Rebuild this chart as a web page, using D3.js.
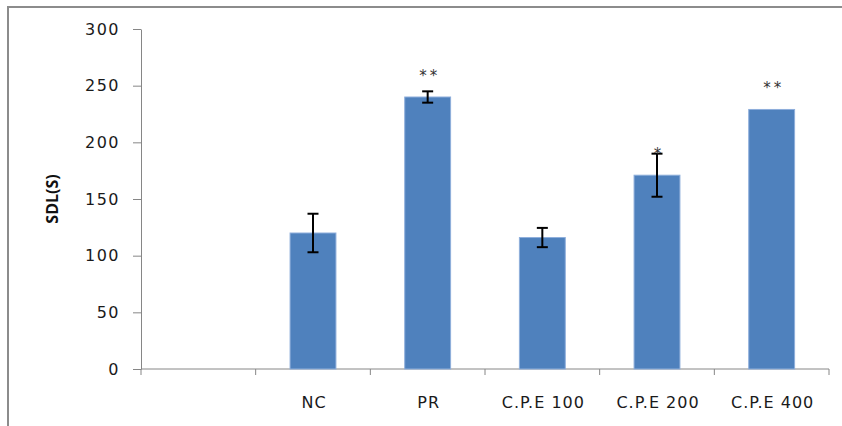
<!DOCTYPE html>
<html>
<head>
<meta charset="utf-8">
<script src="https://cdn.jsdelivr.net/npm/d3@7"></script>
<style>
  html, body { margin: 0; padding: 0; background: #fff; }
  svg { display: block; }
</style>
</head>
<body>
<script>
// Groups, mean SDL (s), SEM and significance marks
const categories = ["", "NC", "PR", "C.P.E 100", "C.P.E 200", "C.P.E 400"];
const means = [null, 120, 240, 116, 171, 229];
const errors = [null, 17, 5, 8.5, 19, 0];
const marks = ["", "", "**", "", "*", "**"];
const yTicks = [0, 50, 100, 150, 200, 250, 300];

const W = 842, H = 426;
const margin = { left: 141, right: 13, top: 29, bottom: 57 };

const svg = d3.select("body").append("svg")
  .attr("width", W).attr("height", H);

// outer frame (left and top edges)
svg.append("path")
  .attr("d", `M8,${H} L8,7 L${W},7`)
  .attr("fill", "none")
  .attr("stroke", "#8c8c8c")
  .attr("stroke-width", 2);

const x = d3.scaleBand()
  .domain(categories)
  .range([margin.left, W - margin.right])
  .paddingInner(0.6)
  .paddingOuter(0.3);

const y = d3.scaleLinear()
  .domain([0, 300])
  .range([H - margin.bottom, margin.top]);

const axisColor = "#868686";
const font = "DejaVu Sans, sans-serif";

// y axis
const yAxis = svg.append("g")
  .attr("transform", `translate(${margin.left},0)`)
  .call(d3.axisLeft(y).tickValues(yTicks).tickSize(8).tickPadding(13).tickSizeOuter(0));
yAxis.select(".domain").attr("stroke", axisColor);
yAxis.selectAll(".tick line").attr("stroke", axisColor);
yAxis.selectAll(".tick text")
  .attr("font-family", font)
  .attr("font-size", 16)
  .attr("letter-spacing", "1.5px")
  .attr("fill", "#1a1a1a");

// x axis baseline and category boundary ticks
const step = x.step();
const boundaries = d3.range(categories.length + 1).map(i =>
  i < categories.length
    ? x(categories[i]) + x.bandwidth() / 2 - step / 2
    : x(categories[i - 1]) + x.bandwidth() / 2 + step / 2);
const baseY = y(0);
svg.append("line")
  .attr("x1", boundaries[0]).attr("x2", boundaries[boundaries.length - 1])
  .attr("y1", baseY).attr("y2", baseY)
  .attr("stroke", axisColor);
svg.selectAll(".xtick").data(boundaries).join("line")
  .attr("class", "xtick")
  .attr("x1", d => d).attr("x2", d => d)
  .attr("y1", baseY).attr("y2", baseY + 6)
  .attr("stroke", axisColor);

// category labels
svg.selectAll(".xlabel").data(categories).join("text")
  .attr("class", "xlabel")
  .attr("x", d => x(d) + x.bandwidth() / 2 + 1)
  .attr("y", baseY + 39)
  .attr("text-anchor", "middle")
  .attr("font-family", font)
  .attr("font-size", 16)
  .attr("letter-spacing", "1px")
  .attr("fill", "#1a1a1a")
  .text(d => d);

// y axis title
svg.append("text")
  .attr("transform", `translate(58,${(y(0) + y(300)) / 2}) rotate(-90)`)
  .attr("text-anchor", "middle")
  .attr("font-family", "Open Sans, sans-serif")
  .attr("font-weight", "bold")
  .attr("font-size", 16)
  .attr("fill", "#111")
  .text("SDL(S)");

const rows = categories.map((c, i) => ({ c, v: means[i], e: errors[i], m: marks[i] }))
  .filter(d => d.v != null);

// bars
svg.selectAll(".bar").data(rows).join("rect")
  .attr("class", "bar")
  .attr("x", d => x(d.c))
  .attr("width", x.bandwidth())
  .attr("y", d => y(d.v))
  .attr("height", d => y(0) - y(d.v))
  .attr("fill", "#4f81bd")
  .attr("stroke", "#8eaedb")
  .attr("stroke-width", 1);

// error bars
const cap = 5.5;
const eb = svg.selectAll(".err").data(rows.filter(d => d.e > 0)).join("g")
  .attr("class", "err")
  .attr("stroke", "#000")
  .attr("stroke-width", 2);
eb.append("line")
  .attr("x1", d => x(d.c) + x.bandwidth() / 2).attr("x2", d => x(d.c) + x.bandwidth() / 2)
  .attr("y1", d => y(d.v + d.e)).attr("y2", d => y(d.v - d.e));
eb.append("line")
  .attr("x1", d => x(d.c) + x.bandwidth() / 2 - cap).attr("x2", d => x(d.c) + x.bandwidth() / 2 + cap)
  .attr("y1", d => y(d.v + d.e)).attr("y2", d => y(d.v + d.e));
eb.append("line")
  .attr("x1", d => x(d.c) + x.bandwidth() / 2 - cap).attr("x2", d => x(d.c) + x.bandwidth() / 2 + cap)
  .attr("y1", d => y(d.v - d.e)).attr("y2", d => y(d.v - d.e));

// significance marks, a fixed distance above each bar
svg.selectAll(".mark").data(rows.filter(d => d.m)).join("text")
  .attr("class", "mark")
  .attr("x", d => x(d.c) + x.bandwidth() / 2 + 2)
  .attr("y", d => y(d.v) - 16)
  .attr("text-anchor", "middle")
  .attr("font-family", font)
  .attr("font-size", 15)
  .attr("letter-spacing", "3px")
  .attr("fill", "#333")
  .text(d => d.m);
</script>
</body>
</html>
